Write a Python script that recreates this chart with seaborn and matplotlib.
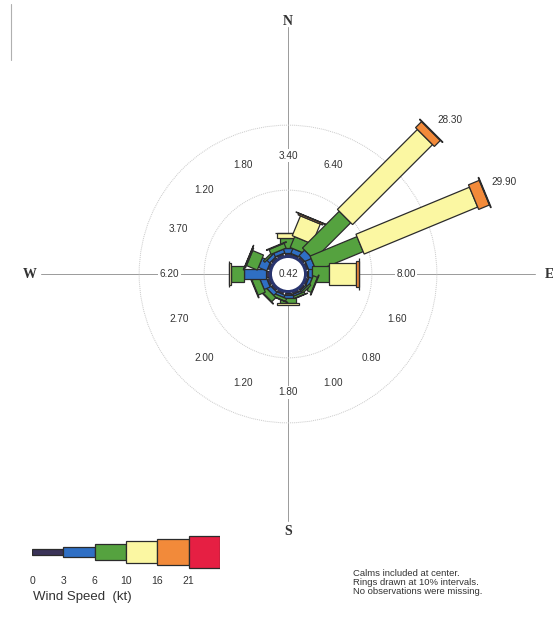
import numpy as np
import seaborn as sns
import matplotlib.pyplot as plt
from matplotlib.patches import Circle
from matplotlib.transforms import Affine2D
from matplotlib.lines import Line2D

# wind rose data: percent of observations per direction and speed bin
directions = ["N", "NNE", "NE", "ENE", "E", "ESE", "SE", "SSE",
              "S", "SSW", "SW", "WSW", "W", "WNW", "NW", "NNW"]
bearings = [0, 22.5, 45, 67.5, 90, 112.5, 135, 157.5,
            180, 202.5, 225, 247.5, 270, 292.5, 315, 337.5]
speed_ticks = ["0", "3", "6", "10", "16", "21"]

pct_0_3 = [0.3, 0.2, 0.3, 0.3, 0.2, 0.3, 0.25, 0.3, 0.3, 0.3, 0.3, 0.4, 0.5, 0.3, 0.3, 0.3]
pct_3_6 = [0.8, 0.8, 1.2, 1.0, 0.6, 0.5, 0.25, 0.3, 0.5, 0.4, 0.7, 1.0, 3.4, 1.4, 0.6, 0.6]
pct_6_10 = [1.5, 1.8, 8.0, 7.8, 2.6, 0.7, 0.3, 0.35, 0.8, 0.45, 0.9, 1.2, 2.0, 1.8, 0.3, 0.8]
pct_10_16 = [0.75, 3.3, 17.4, 18.9, 4.1, 0.1, 0, 0.05, 0.2, 0.05, 0.1, 0.1, 0.25, 0.15, 0, 0.1]
pct_16_21 = [0.05, 0.25, 1.3, 1.8, 0.45, 0, 0, 0, 0, 0, 0, 0, 0.05, 0.05, 0, 0]
pct_21_up = [0, 0.05, 0.1, 0.1, 0.05, 0, 0, 0, 0, 0, 0, 0, 0, 0, 0, 0]
calm_pct = 0.42

notes = ["Calms included at center.",
         "Rings drawn at 10% intervals.",
         "No observations were missing."]

# styling
colors = ["#3a3358", "#2f6fc4", "#55a23f", "#fbf7a2", "#f28a3a", "#e61f43"]
bar_widths = [0.9, 1.6, 2.5, 3.3, 4.1, 5.0]
edge = "#2b2b2b"
r0 = 2.9          # radius of calm circle (percent units)
px_per_unit = 6.5

sns.set_style("white")
plt.rcParams['font.family'] = ['Liberation Sans', 'DejaVu Sans']

fig = plt.figure(figsize=(5.53, 6.22), dpi=100)
W, H = 553, 622
cx, cy, half = 288, 274, 260
ax = fig.add_axes([(cx - half) / W, (H - cy - half) / H, 2 * half / W, 2 * half / H])
L = half / px_per_unit
ax.set_xlim(-L, L)
ax.set_ylim(-L, L)
ax.set_aspect('equal')
ax.axis('off')

# compass cross and rings
ax.plot([0, 0], [-38, 38], color="#9a9a9a", lw=0.7, zorder=0)
ax.plot([-38, 38], [0, 0], color="#9a9a9a", lw=0.7, zorder=0)
for ring in [10, 20]:
    ax.add_patch(Circle((0, 0), r0 + ring, fill=False, ec="#c9c9c9", lw=0.7, ls=(0, (1, 1)), zorder=0.5))

for lab, (x, y) in zip(["N", "E", "S", "W"], [(0, 38.9), (40.2, 0), (0, -39.6), (-39.8, 0)]):
    ax.text(x, y, lab, ha='center', va='center', fontsize=10, fontweight='bold',
            family=['Liberation Serif', 'DejaVu Serif'], color="#333333", clip_on=False)

bins = np.array([pct_0_3, pct_3_6, pct_6_10, pct_10_16, pct_16_21, pct_21_up])
for i, b in enumerate(bearings):
    vals = bins[:, i]
    keep = vals > 0
    bottoms = r0 + np.concatenate([[0], np.cumsum(vals)[:-1]])
    bars = ax.bar(np.zeros(keep.sum()), vals[keep], width=np.array(bar_widths)[keep],
                  bottom=bottoms[keep], color=np.array(colors)[keep],
                  edgecolor=edge, linewidth=0.9, zorder=2)
    rot = Affine2D().rotate_deg(-b) + ax.transData
    for p in bars:
        p.set_transform(rot)

    total = vals.sum()
    th = np.deg2rad(b)
    if r0 + total > 16:
        tip = r0 + total
        ax.text(tip * np.sin(th) + 1.0, tip * np.cos(th) + 0.9, f"{total:.2f}",
                ha='left', va='bottom', fontsize=7.2, color="#333333", zorder=4)
    else:
        R = 18.2
        ax.text(R * np.sin(th), R * np.cos(th), f"{total:.2f}", ha='center', va='center',
                fontsize=7.2, color="#333333", zorder=4,
                bbox=dict(fc='white', ec='none', pad=1.0))

ax.add_patch(Circle((0, 0), r0 - 0.2, fc='white', ec="#28346e", lw=2.2, zorder=3))
ax.text(0, 0, f"{calm_pct:.2f}", ha='center', va='center', fontsize=7.2, color="#333333", zorder=4)

# speed legend
lx0, lx1, ly = 32, 220, 552
lax = fig.add_axes([lx0 / W, (H - ly - 20) / H, (lx1 - lx0) / W, 40 / H])
lax.set_xlim(0, 6)
lax.set_ylim(-20, 20)
lax.axis('off')
heights = np.array(bar_widths) * px_per_unit
lax.bar(np.arange(6), heights, bottom=-heights / 2, width=1, align='edge',
        color=colors, edgecolor=edge, linewidth=0.9)
for k, t in enumerate(speed_ticks):
    lax.text(k, -29, t, ha='center', va='center', fontsize=7.5, color="#333333", clip_on=False)
fig.text(33 / W, 1 - 597 / H, "Wind Speed  (kt)", ha='left', va='center', fontsize=9.5, color="#333333")

for j, line in enumerate(notes):
    fig.text(353 / W, 1 - (573 + 9.5 * j) / H, line, ha='left', va='center', fontsize=6.8, color="#333333")

fig.add_artist(Line2D([11 / W, 11 / W], [1 - 4 / H, 1 - 60 / H], color="#b0b0b0", lw=0.8))

fig.savefig("out.png", dpi=100)
